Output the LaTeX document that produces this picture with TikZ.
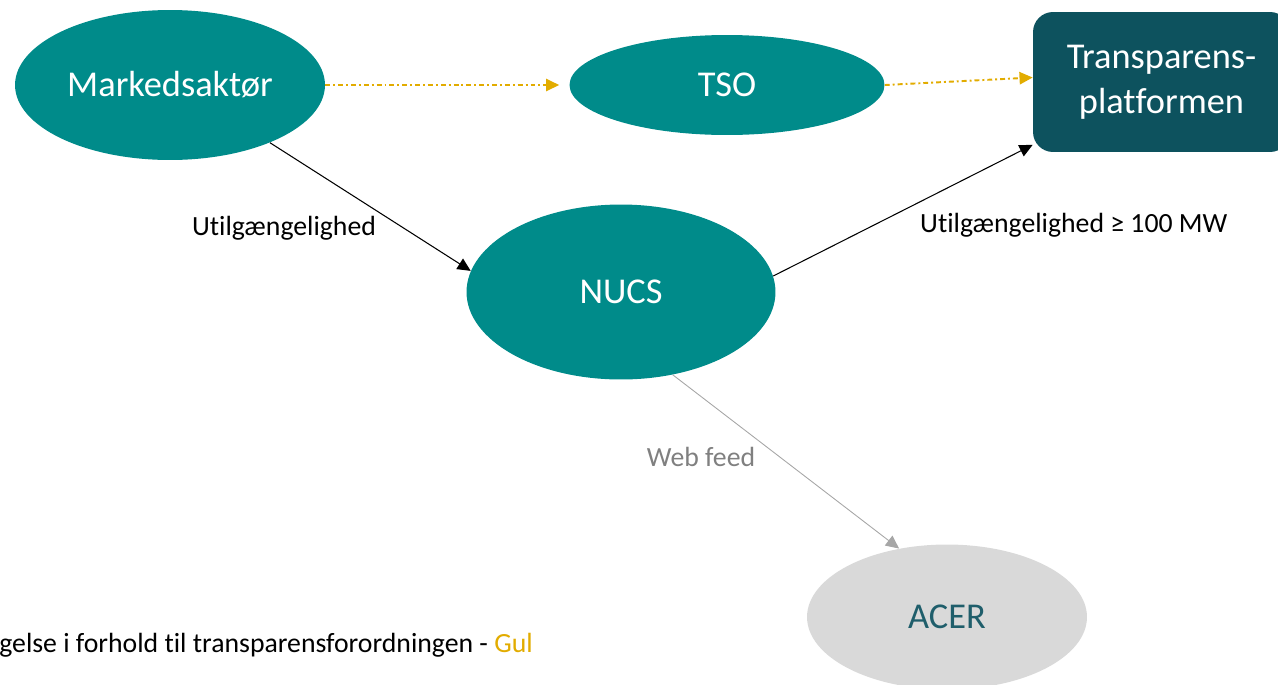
\documentclass[tikz,border=0pt]{standalone}
\usepackage{fontspec}
\setmainfont{Carlito}[Ligatures=NoCommon]
\usetikzlibrary{arrows.meta,shapes.geometric}

\definecolor{tealnode}{HTML}{008B8A}
\definecolor{darkteal}{HTML}{0D525E}
\definecolor{acergray}{HTML}{D9D9D9}
\definecolor{acertext}{HTML}{1F5E6B}
\definecolor{gul}{HTML}{E2AC00}
\definecolor{feedgray}{HTML}{A6A6A6}

\begin{document}
\begin{tikzpicture}[x=0.02cm,y=-0.02cm,
    actor/.style={ellipse, fill=tealnode, text=white, inner sep=0pt, font=\fontsize{20.7}{25}\selectfont},
    flow/.style={-{Triangle[length=7.5pt,width=7pt]}, line width=0.6pt},
    tsoflow/.style={flow, gul, line width=1.1pt, dash pattern=on 2.8pt off 1.7pt on 1.1pt off 1.7pt},
    lbl/.style={font=\fontsize{15.8}{18}\selectfont}]
    \useasboundingbox (0,0) rectangle (1278,684);
    % Nodes
    \node[actor, minimum width=6.2cm, minimum height=3cm] (mark) at (170,85) {Markedsaktør};
    \node[actor, minimum width=6.3cm, minimum height=2cm] (tso) at (727,85) {TSO};
    \node[actor, minimum width=6.18cm, minimum height=3.5cm] (nucs) at (621,292) {NUCS};
    \node[actor, fill=acergray, text=acertext, minimum width=5.6cm, minimum height=2.9cm] (acer) at (947,617) {ACER};
    \node[rectangle, rounded corners=0.4cm, fill=darkteal, text=white, align=center,
          minimum width=5.14cm, minimum height=2.8cm, font=\fontsize{20.7}{25.5}\selectfont]
          (trans) at (1161.5,82) {Transparens-\\platformen};
    % Yellow reporting path
    \draw[tsoflow, shorten >=0.2cm] (mark.east) -- (tso.west);
    \draw[tsoflow] (tso.east) -- (trans.178);
    % NUCS path
    \draw[flow] (mark.-30) -- (nucs.172);
    \draw[flow] (nucs.6) -- (trans.206);
    \draw[flow, feedgray, line width=0.5pt] (nucs.-58) -- (acer.125);
    % Labels
    \node[lbl] (lblmark) at (284,228) {Utilgængelighed};
    \node[lbl, anchor=west] (lbltrans) at (914,225) {Utilgængelighed ≥ 100 MW};
    \node[lbl, text=black!50] (lblfeed) at (701,457) {Web feed};
    \node[lbl, anchor=base west, inner sep=0pt] (legend) at (-1,652)
      {gelse i forhold til transparensforordningen - \textcolor{gul}{Gul}};
  \end{tikzpicture}
\end{document}
